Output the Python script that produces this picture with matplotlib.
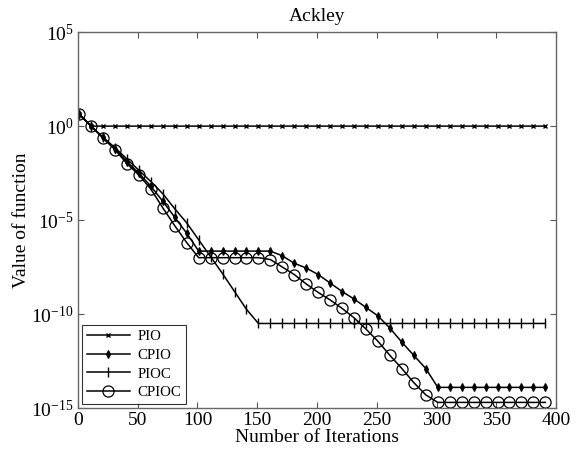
import numpy as np
import matplotlib
matplotlib.use("Agg")
import matplotlib.pyplot as plt
from matplotlib.ticker import FixedLocator, FuncFormatter, NullLocator

plt.rcParams['font.family'] = ['Liberation Serif', 'DejaVu Serif']
plt.rcParams['mathtext.fontset'] = 'custom'
plt.rcParams['mathtext.rm'] = 'Liberation Serif'

# iterations at which values were recorded
iterations = [1 + 10 * i for i in range(40)]

# log10 of function value
pio_log10 = [0.64] + [0.0] * 39
cpio_log10 = ([0.64, 0.0, -0.6, -1.2, -1.9, -2.5, -3.2, -4.0, -4.85, -5.7, -6.65]
              + [-6.65] * 6
              + [-6.9, -7.3, -7.55, -7.9, -8.35, -8.8, -9.2, -9.65, -10.1, -10.75,
                 -11.5, -12.2, -12.9, -13.9]
              + [-13.9] * 9)
pioc_log10 = ([0.64, 0.0, -0.6, -1.15, -1.75, -2.35, -2.95, -3.6, -4.4, -5.15, -6.05,
               -6.95, -7.85, -8.8, -9.75, -10.5]
              + [-10.5] * 24)
cpioc_log10 = ([0.64, 0.0, -0.65, -1.25, -2.0, -2.6, -3.35, -4.35, -5.3, -6.2, -7.0]
               + [-7.0] * 5
               + [-7.1, -7.5, -7.9, -8.4, -8.85, -9.25, -9.7, -10.2, -10.8, -11.45,
                  -12.2, -12.9, -13.65, -14.3, -14.7]
               + [-14.7] * 9)

labels = ['PIO', 'CPIO', 'PIOC', 'CPIOC']
x_ticks = [0, 50, 100, 150, 200, 250, 300, 350, 400]
y_tick_exps = [5, 0, -5, -10, -15]

fig = plt.figure(figsize=(5.86, 4.59), dpi=100)
ax = fig.add_axes([0.133, 0.111, 0.816, 0.819])

x = np.array(iterations)
series = [pio_log10, cpio_log10, pioc_log10, cpioc_log10]
styles = [
    dict(marker='x', markersize=3.5, markeredgewidth=1.0),
    dict(marker='d', markersize=4, markeredgewidth=0.8, markerfacecolor='black'),
    dict(marker='|', markersize=7.5, markeredgewidth=1.0),
    dict(marker='o', markersize=8, markeredgewidth=0.9, markerfacecolor='none'),
]
for lab, s, st in zip(labels, series, styles):
    ax.semilogy(x, 10.0 ** np.array(s), color='black', linewidth=1.1, label=lab, **st)

ax.set_xlim(0, 400)
ax.set_ylim(1e-15, 1e5)
ax.xaxis.set_major_locator(FixedLocator(x_ticks))
ax.yaxis.set_major_locator(FixedLocator([10.0 ** e for e in y_tick_exps]))
ax.yaxis.set_minor_locator(NullLocator())
ax.yaxis.set_major_formatter(FuncFormatter(
    lambda v, p: r'$\mathregular{10^{%d}}$' % int(round(np.log10(v)))))
ax.tick_params(direction='in', top=True, right=True, length=4, width=0.8,
               labelsize=14, color='#555555', pad=3)
for sp in ax.spines.values():
    sp.set_color('#666666')
    sp.set_linewidth(1.0)

ax.set_title('Ackley', fontsize=14, pad=8)
ax.set_xlabel('Number of Iterations', fontsize=14, labelpad=0)
ax.set_ylabel('Value of function', fontsize=14, labelpad=1)

leg = ax.legend(loc='lower left', fontsize=10.7, frameon=True, fancybox=False,
                edgecolor='black', handlelength=2.9, handletextpad=0.5,
                borderaxespad=0.3, labelspacing=0.35, borderpad=0.3)
leg.get_frame().set_linewidth(0.8)

fig.savefig('out.png', dpi=100)
